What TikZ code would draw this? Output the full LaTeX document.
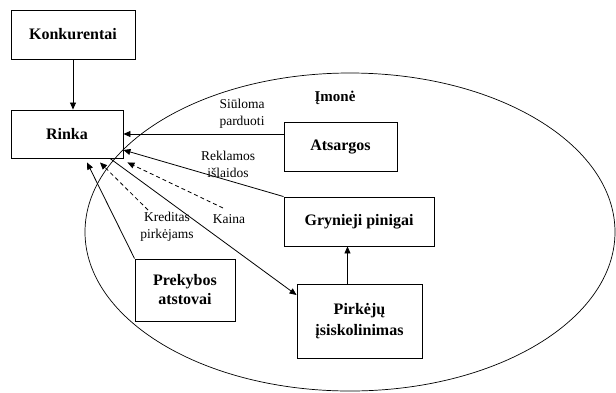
\documentclass[tikz,border=0pt]{standalone}
\usepackage{fontspec}
\setmainfont{Liberation Serif}
\usetikzlibrary{arrows.meta}
\begin{document}
\begin{tikzpicture}[x=1pt,y=-1pt,
  box/.style={draw,line width=0.9pt,align=center,inner sep=2pt,
    font=\fontsize{16}{19}\selectfont\bfseries},
  lbl/.style={align=center,inner sep=0pt,font=\fontsize{13.5}{17}\selectfont},
  arr/.style={line width=0.8pt,-{Triangle[length=7pt,width=6pt]}},
  darr/.style={arr,dashed,dash pattern=on 4pt off 3pt}]
\useasboundingbox (0,0) rectangle (616,392);

% company boundary
\draw[line width=0.7pt] (350,232) ellipse [x radius=265pt, y radius=159pt];
\node[font=\fontsize{15}{18}\selectfont\bfseries,inner sep=0pt] (imone) at (335,98) {Įmonė};

% blocks
\node[box,minimum width=124pt,minimum height=49pt] (konk) at (73,34.5) {Konkurentai};
\node[box,minimum width=112pt,minimum height=48pt] (rinka) at (67,134) {Rinka};
\node[box,minimum width=113pt,minimum height=49pt] (ats) at (340.5,146.5) {Atsargos};
\node[box,minimum width=150pt,minimum height=49pt] (gry) at (359,221.5) {Grynieji pinigai};
\node[box,minimum width=100pt,minimum height=62pt] (prek) at (185,290) {Prekybos\\atstovai};
\node[box,minimum width=125pt,minimum height=74pt,font=\fontsize{16}{21}\selectfont\bfseries] (pirk) at (359.5,321) {Pirkėjų\\įsiskolinimas};

% flow labels
\node[lbl] (l1) at (242,114) {Siūloma\\parduoti};
\node[lbl] (l2) at (228,164) {Reklamos\\išlaidos};
\node[lbl] (l3) at (167,227) {Kreditas\\pirkėjams};
\node[lbl] (l4) at (229,219) {Kaina};

% free ends of the dashed flows
\coordinate (kainaend) at (223,208);
\coordinate (kredend) at (148,210);

% connectors
\draw[arr] (konk.south) -- (konk.south |- rinka.north);
\draw[arr] (ats.west |- rinka.east) -- (rinka.east);
\draw[arr] (gry.north west) -- ([yshift=-16pt]rinka.east);
\draw[darr] (kainaend) -- ([shift={(4pt,-4pt)}]rinka.south east);
\draw[darr] (kredend) -- ([shift={(33pt,-4pt)}]rinka.south);
\draw[arr] (prek.north west) -- ([shift={(20pt,-4pt)}]rinka.south);
\draw[arr] ([xshift=43pt]rinka.south) -- ([yshift=26pt]pirk.west);
\draw[arr] ([xshift=-12pt]pirk.north) -- ([xshift=-12pt]pirk.north |- gry.south);
\end{tikzpicture}
\end{document}
